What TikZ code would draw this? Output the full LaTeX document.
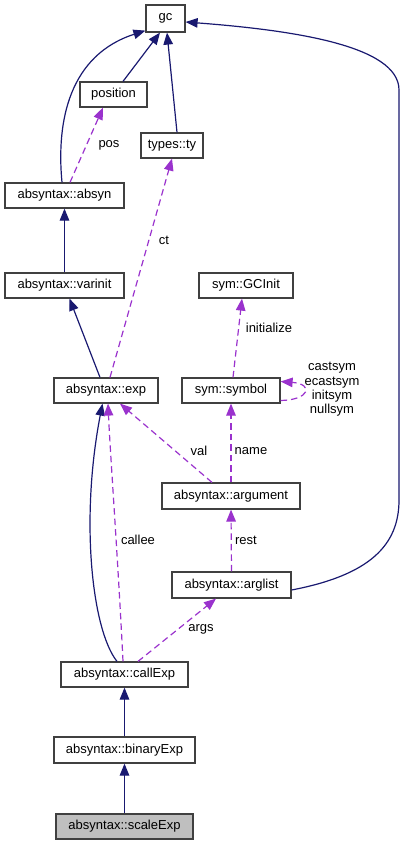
\documentclass[tikz,border=0pt]{standalone}
\usepackage{fontspec}
\setmainfont{Liberation Sans}
\usetikzlibrary{arrows.meta,calc}
\definecolor{edgeblue}{HTML}{191970}
\definecolor{edgepurple}{HTML}{9A32CD}
\definecolor{boxline}{HTML}{404040}
\definecolor{rootfill}{HTML}{BFBFBF}
\begin{document}
\begin{tikzpicture}[x=1pt,y=-1pt,
  font=\fontsize{13}{14.4}\selectfont,
  cls/.style={draw=boxline,line width=1.2pt,fill=white,inner sep=0pt,minimum height=25pt},
  inh/.style={draw=edgeblue,line width=1.2pt,-{Triangle[length=12pt,width=9.5pt]}},
  use/.style={draw=edgepurple,line width=1.2pt,dash pattern=on 6.5pt off 4pt,-{Triangle[length=12pt,width=9.5pt]}},
  lbl/.style={inner sep=0pt,text=black}]
\useasboundingbox (0,0) rectangle (405,845);
% nodes
\node[cls,minimum width=39pt,minimum height=27pt] (gc) at (165.5,18.5) {gc};
\node[cls,minimum width=67pt] (position) at (113.5,94.5) {position};
\node[cls,minimum width=62pt] (types) at (172,145.5) {types::ty};
\node[cls,minimum width=119pt] (absyn) at (64.5,195.5) {absyntax::absyn};
\node[cls,minimum width=119pt] (varinit) at (64.5,285.5) {absyntax::varinit};
\node[cls,minimum width=94pt] (gcinit) at (246,285.5) {sym::GCInit};
\node[cls,minimum width=98pt] (symbol) at (231,390.5) {sym::symbol};
\node[cls,minimum width=104pt] (exp) at (106,390.5) {absyntax::exp};
\node[cls,minimum width=138pt,minimum height=26pt] (argument) at (231,496) {absyntax::argument};
\node[cls,minimum width=119pt,minimum height=26pt] (arglist) at (231.5,585) {absyntax::arglist};
\node[cls,minimum width=127pt] (callexp) at (124.5,674.5) {absyntax::callExp};
\node[cls,minimum width=141pt,minimum height=26pt] (binary) at (124.5,750) {absyntax::binaryExp};
\node[cls,minimum width=137pt,fill=rootfill] (scale) at (124.5,826.5) {absyntax::scaleExp};
% inheritance edges
\draw[inh] ($(position.north)+(9.5,0)$) -- ($(gc.south)+(-5.5,0)$);
\draw[inh] ($(types.north)+(5,0)$) -- ($(gc.south)+(1.5,0)$);
\draw[inh] ($(absyn.north)+(-2.5,0)$) .. controls (56,120) and (70,55) .. ($(gc.south west)+(0,-2)$);
\draw[inh] ($(arglist.east)+(0,5)$) .. controls (370,575) and (399,545) .. (399,500) -- (399,90) .. controls (399,45) and (290,30) .. ($(gc.east)+(0,3.5)$);
\draw[inh] (varinit.north) -- (absyn.south);
\draw[inh] ($(exp.north)+(-6,0)$) -- ($(varinit.south)+(5,0)$);
\draw[inh] ($(callexp.north)+(-7.5,0)$) .. controls (92,630) and (80,520) .. ($(exp.south)+(-3.5,0)$);
\draw[inh] (binary.north) -- (callexp.south);
\draw[inh] (scale.north) -- (binary.south);
% usage edges
\draw[use] ($(absyn.north)+(5.5,0)$) -- ($(position.south)+(-10.5,0)$);
\node[lbl] (lpos) at (109,145) {pos};
\draw[use] ($(exp.north)+(4,0)$) -- (types.south);
\node[lbl] (lct) at (164,240) {ct};
\draw[use] ($(callexp.north)+(-1.5,0)$) .. controls (118,560) and (110,450) .. ($(exp.south)+(2,0)$);
\node[lbl] (lcallee) at (138,540) {callee};
\draw[use] ($(argument.north)+(-19,0)$) -- ($(exp.south)+(14,0)$);
\node[lbl] (lval) at (199,451) {val};
\draw[use] (argument.north) -- (symbol.south);
\node[lbl] (lname) at (251,451) {name};
\draw[use] ($(symbol.north)+(2,0)$) -- ($(gcinit.south)+(-4,0)$);
\node[lbl] (linit) at (269,328) {initialize};
\draw[use] ($(symbol.east)+(0,10)$) .. controls (310,400) and (314,384) .. ($(symbol.east)+(0,-9)$);
\node[lbl,align=center] (lsyms) at (332,389.5) {castsym\\ecastsym\\initsym\\nullsym};
\draw[use] (arglist.north) -- (argument.south);
\node[lbl] (lrest) at (246,540) {rest};
\draw[use] ($(callexp.north)+(13.5,0)$) -- ($(arglist.south)+(-15.5,0)$);
\node[lbl] (largs) at (201,629) {args};
\end{tikzpicture}
\end{document}
